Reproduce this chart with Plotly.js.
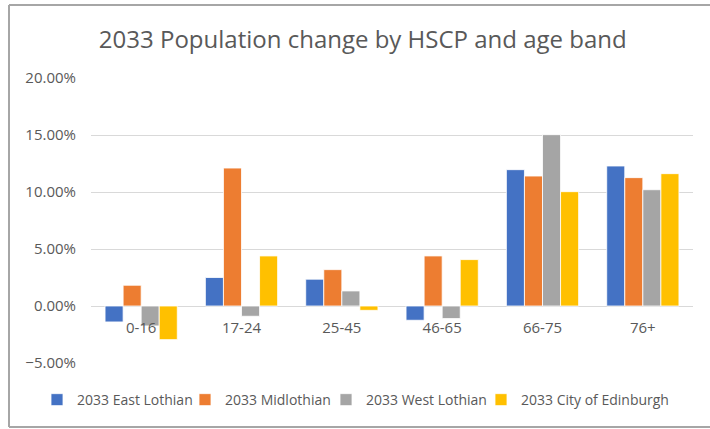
<!DOCTYPE html>
<html>
<head>
<meta charset="utf-8">
<script src="https://cdn.plot.ly/plotly-3.0.1.min.js"></script>
<style>
  html, body { margin: 0; padding: 0; background: #fff; overflow: hidden; }
  #chart { width: 710px; height: 429px; }
</style>
</head>
<body>
<div id="chart"></div>
<script>
// Age bands
const ageBands = ['0-16', '17-24', '25-45', '46-65', '66-75', '76+'];

// Projected population change to 2033 (fraction of current population)
const eastLothian = [-0.014, 0.025, 0.0235, -0.0125, 0.1196, 0.1228];
const midlothian  = [0.0182, 0.121, 0.0319, 0.0439, 0.114, 0.1126];
const westLothian = [-0.0175, -0.009, 0.0132, -0.011, 0.1503, 0.102];
const edinburgh   = [-0.0295, 0.0439, -0.0038, 0.0407, 0.1003, 0.1161];

const seriesNames = ['2033 East Lothian', '2033 Midlothian', '2033 West Lothian', '2033 City of Edinburgh'];
const seriesColors = ['#4472C4', '#ED7D31', '#A5A5A5', '#FFC000'];
const seriesValues = [eastLothian, midlothian, westLothian, edinburgh];
// legend entry widths (px of text slot) so the row keeps a compact pitch; 0 = auto
const legendWidths = [103, 96, 110, 0];

const font = "'Open Sans', 'Liberation Sans', sans-serif";

const traces = seriesValues.map((vals, i) => ({
  type: 'bar',
  name: seriesNames[i],
  x: ageBands,
  y: vals,
  legendwidth: legendWidths[i],
  marker: { color: seriesColors[i], line: { color: '#ffffff', width: 0.8 } },
  hoverinfo: 'x+y+name'
}));

// chart-area frame (left, top and bottom edges)
const frameStyle = { color: '#a6a6a6', width: 2 };
const frameShapes = [
  { type: 'line', xref: 'paper', yref: 'paper', x0: -0.1362, x1: -0.1362, y0: -0.2246, y1: 1.2561, line: frameStyle },
  { type: 'line', xref: 'paper', yref: 'paper', x0: -0.1362, x1: 1.05, y0: 1.2561, y1: 1.2561, line: frameStyle },
  { type: 'line', xref: 'paper', yref: 'paper', x0: -0.1362, x1: 1.05, y0: -0.2246, y1: -0.2246, line: frameStyle }
];

const layout = {
  width: 710,
  height: 429,
  margin: { l: 91, r: 17, t: 78, b: 66 },
  paper_bgcolor: '#ffffff',
  plot_bgcolor: '#ffffff',
  font: { family: font, color: '#595959', size: 15 },
  title: {
    text: '2033 Population change by HSCP and age band',
    font: { family: font, size: 24, color: '#595959' },
    x: 0.511, xref: 'container', xanchor: 'center',
    y: 0.907, yref: 'container', yanchor: 'middle'
  },
  barmode: 'group',
  bargap: 0.28,
  bargroupgap: 0,
  showlegend: true,
  legend: {
    orientation: 'h',
    xref: 'paper', yref: 'paper',
    x: -0.0897, xanchor: 'left',
    y: -0.13, yanchor: 'middle',
    font: { family: font, size: 14, color: '#595959' },
    itemwidth: 30,
    tracegroupgap: 0,
    traceorder: 'normal'
  },
  shapes: frameShapes,
  xaxis: {
    type: 'category',
    anchor: 'free',
    position: 0.2,
    showgrid: false,
    showline: false,
    zeroline: false,
    ticks: '',
    ticklabelstandoff: 11,
    tickfont: { family: font, size: 15, color: '#595959' },
    fixedrange: true
  },
  yaxis: {
    range: [-0.05, 0.2],
    dtick: 0.05,
    tickformat: '.2%',
    showgrid: true,
    gridcolor: '#d9d9d9',
    gridwidth: 1,
    zeroline: true,
    zerolinecolor: '#d9d9d9',
    zerolinewidth: 1,
    showline: false,
    ticks: '',
    ticklabelstandoff: 14,
    tickfont: { family: font, size: 15, color: '#595959' },
    fixedrange: true
  }
};

Plotly.newPlot('chart', traces, layout, { displayModeBar: false, staticPlot: true });
</script>
</body>
</html>
